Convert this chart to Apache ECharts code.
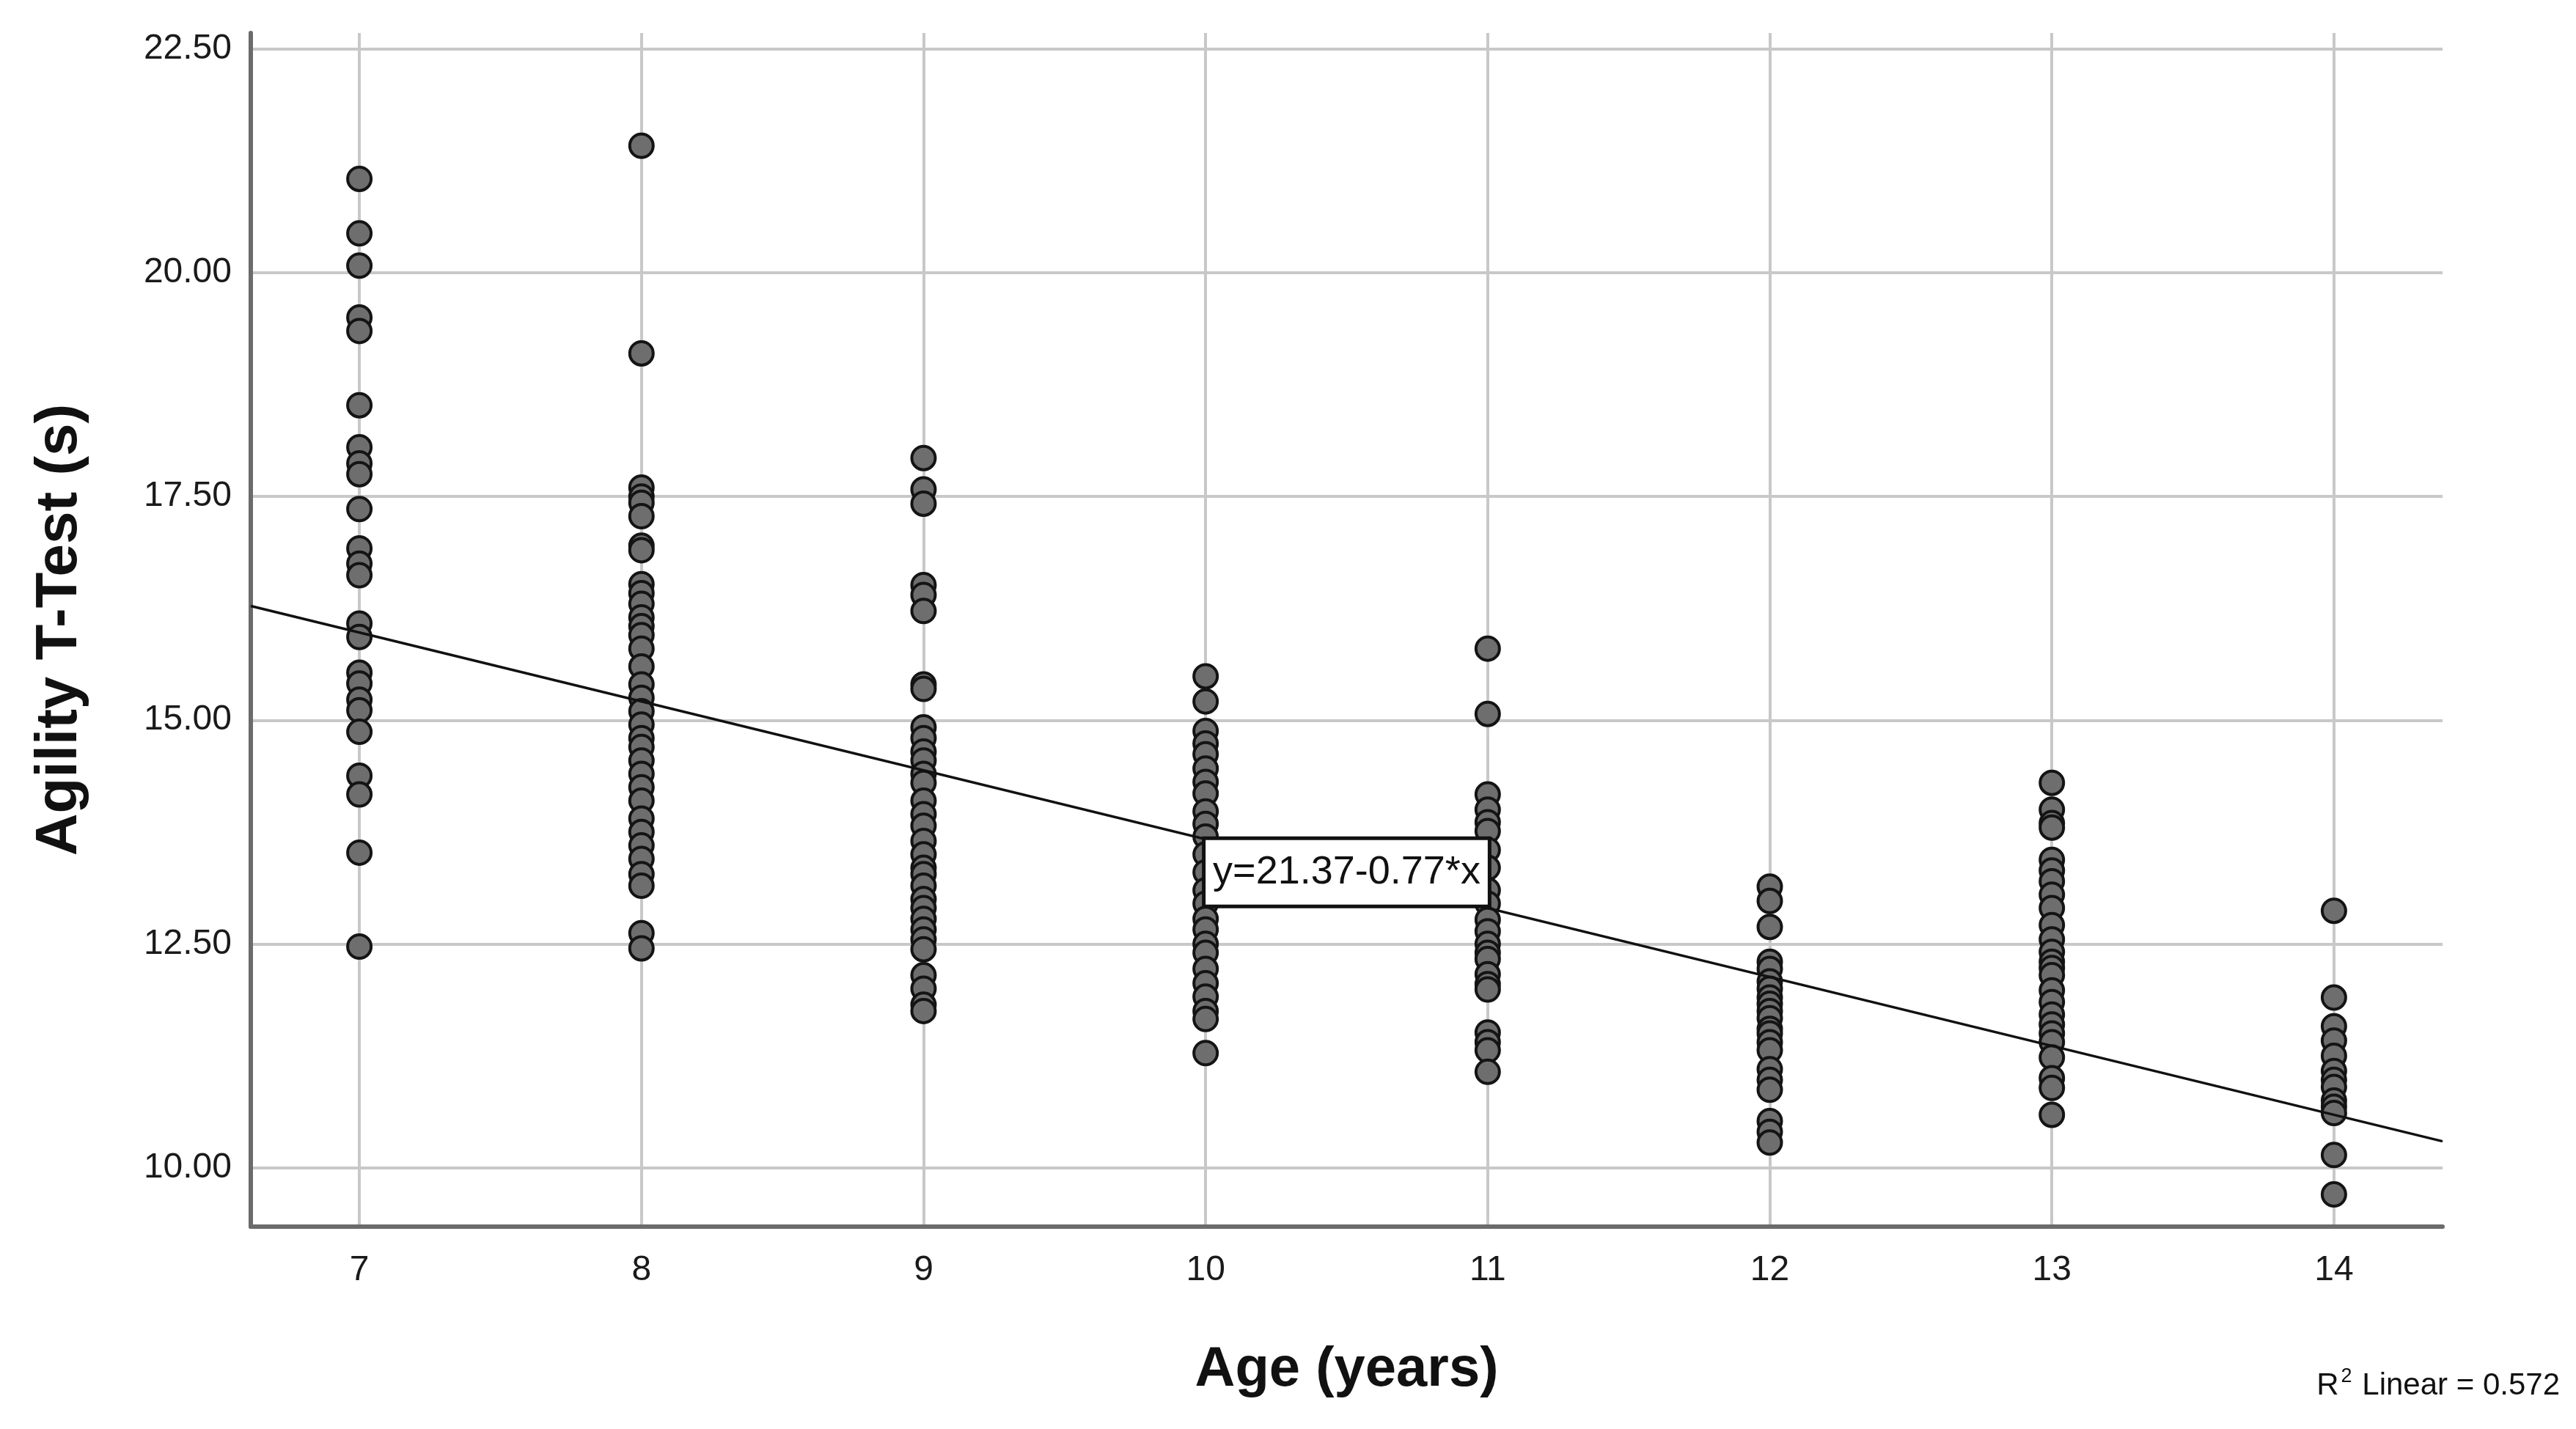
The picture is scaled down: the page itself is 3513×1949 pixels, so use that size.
<!DOCTYPE html>
<html><head><meta charset="utf-8">
<script src="https://cdn.jsdelivr.net/npm/echarts@6/dist/echarts.min.js"></script>
<style>html,body{margin:0;padding:0;background:#fff;} #c{width:3513px;height:1949px;}</style>
</head><body><div id="c"></div>
<script>
// ---- data ----
const ages = [7, 8, 9, 10, 11, 12, 13, 14];
const age7 = [21.05, 20.44, 20.08, 19.50, 19.35, 18.52, 18.05, 17.87, 17.75, 17.36, 16.92, 16.75, 16.62, 16.08, 15.93, 15.53, 15.41, 15.23, 15.11, 14.87, 14.38, 14.17, 13.52, 12.47];
const age8 = [21.42, 19.10, 17.60, 17.50, 17.43, 17.28, 16.95, 16.90, 16.52, 16.42, 16.30, 16.15, 16.05, 15.95, 15.80, 15.60, 15.40, 15.25, 15.10, 14.95, 14.80, 14.70, 14.55, 14.40, 14.25, 14.10, 13.90, 13.75, 13.60, 13.45, 13.28, 13.15, 12.62, 12.45];
const age9 = [17.93, 17.58, 17.42, 16.51, 16.40, 16.22, 15.40, 15.35, 14.92, 14.80, 14.65, 14.55, 14.40, 14.30, 14.10, 13.95, 13.82, 13.65, 13.50, 13.35, 13.28, 13.15, 13.00, 12.90, 12.78, 12.66, 12.55, 12.44, 12.15, 12.00, 11.82, 11.75];
const age10 = [15.49, 15.21, 14.88, 14.74, 14.62, 14.46, 14.31, 14.18, 13.98, 13.84, 13.70, 13.50, 13.30, 13.10, 12.95, 12.78, 12.66, 12.50, 12.40, 12.22, 12.06, 11.91, 11.75, 11.66, 11.28];
const age11 = [15.80, 15.07, 14.17, 14.00, 13.86, 13.76, 13.55, 13.35, 13.10, 12.95, 12.77, 12.64, 12.50, 12.40, 12.33, 12.16, 12.05, 11.99, 11.51, 11.40, 11.31, 11.07];
const age12 = [13.14, 12.98, 12.69, 12.30, 12.22, 12.08, 12.00, 11.90, 11.83, 11.75, 11.67, 11.55, 11.50, 11.40, 11.31, 11.10, 10.98, 10.87, 10.52, 10.40, 10.28];
const age13 = [14.30, 14.00, 13.85, 13.80, 13.44, 13.32, 13.20, 13.05, 12.90, 12.71, 12.55, 12.41, 12.30, 12.23, 12.15, 11.98, 11.85, 11.71, 11.60, 11.50, 11.40, 11.23, 11.00, 10.89, 10.59];
const age14 = [12.87, 11.90, 11.58, 11.42, 11.25, 11.08, 10.98, 10.90, 10.75, 10.68, 10.61, 10.14, 9.70];
const xTicks = [7, 8, 9, 10, 11, 12, 13, 14];
const yTicks = [10.00, 12.50, 15.00, 17.50, 20.00, 22.50];
const xRange = [6.615, 14.385];
const yRange = [9.34, 22.68];
const fitIntercept = 21.37;
const fitSlope = -0.77;
const fitLabel = 'y=21.37-0.77*x';
const fitLabelAt = [10.5, 13.3];
const r2Text = 'Linear = 0.572';
const xTitle = 'Age (years)';
const yTitle = 'Agility T-Test (s)';

// ---- build ----
const columns = [age7, age8, age9, age10, age11, age12, age13, age14];
const points = [];
columns.forEach((vals, i) => vals.forEach(v => points.push([ages[i], v])));
const fitData = xRange.map(x => [x, fitIntercept + fitSlope * x]);

const FONT = "'Liberation Sans', Arial, sans-serif";
const chart = echarts.init(document.getElementById('c'), null, {renderer: 'canvas'});
chart.setOption({
  animation: false,
  backgroundColor: '#ffffff',
  grid: {left: 342, right: 182, top: 45, bottom: 276, containLabel: false},
  xAxis: {
    type: 'value', min: xRange[0], max: xRange[1],
    name: xTitle, nameLocation: 'middle', nameGap: 158,
    nameTextStyle: {fontFamily: FONT, fontWeight: 'bold', fontSize: 76, color: '#111'},
    axisLine: {show: true, onZero: false, lineStyle: {color: '#6b6b6b', width: 6}},
    axisTick: {show: false, customValues: xTicks},
    axisLabel: {customValues: xTicks, margin: 36, fontFamily: FONT, fontSize: 48, color: '#1a1a1a'},
    splitLine: {show: true, lineStyle: {color: '#c8c8c8', width: 4}}
  },
  yAxis: {
    type: 'value', min: yRange[0], max: yRange[1],
    name: yTitle, nameLocation: 'middle', nameGap: 220, nameRotate: 90,
    nameTextStyle: {fontFamily: FONT, fontWeight: 'bold', fontSize: 80, color: '#111'},
    axisLine: {show: true, onZero: false, lineStyle: {color: '#6b6b6b', width: 6}},
    axisTick: {show: false, customValues: yTicks},
    axisLabel: {customValues: yTicks, margin: 26, fontFamily: FONT, fontSize: 48, color: '#1a1a1a',
      formatter: v => Number(v).toFixed(2)},
    splitLine: {show: true, lineStyle: {color: '#c8c8c8', width: 4}}
  },
  series: [
    {
      type: 'scatter', z: 2, data: points, symbol: 'circle', symbolSize: 32,
      itemStyle: {color: '#6e6e6e', borderColor: '#141414', borderWidth: 4, opacity: 1}
    },
    {
      type: 'line', z: 4, data: fitData, symbol: 'none', silent: true,
      lineStyle: {color: '#111', width: 3.5},
      markPoint: {
        z: 10, symbol: 'rect', symbolSize: 1, itemStyle: {color: 'rgba(0,0,0,0)'},
        data: [{coord: fitLabelAt, value: fitLabel}],
        label: {
          show: true, position: 'inside', formatter: fitLabel,
          fontFamily: FONT, fontSize: 54, color: '#111',
          backgroundColor: '#fff', borderColor: '#111', borderWidth: 5,
          padding: [20, 10, 14, 10]
        }
      }
    }
  ],
  graphic: [{
    type: 'text', right: 22, top: 1864,
    style: {
      text: '{r|R}{s|2}{t| ' + r2Text + '}',
      rich: {
        r: {fontFamily: FONT, fontSize: 42, fill: '#111', verticalAlign: 'bottom'},
        s: {fontFamily: FONT, fontSize: 27, fill: '#111', verticalAlign: 'top', padding: [0, 2, 20, 3]},
        t: {fontFamily: FONT, fontSize: 42, fill: '#111', verticalAlign: 'bottom'}
      }
    }
  }]
});
</script>
</body></html>
